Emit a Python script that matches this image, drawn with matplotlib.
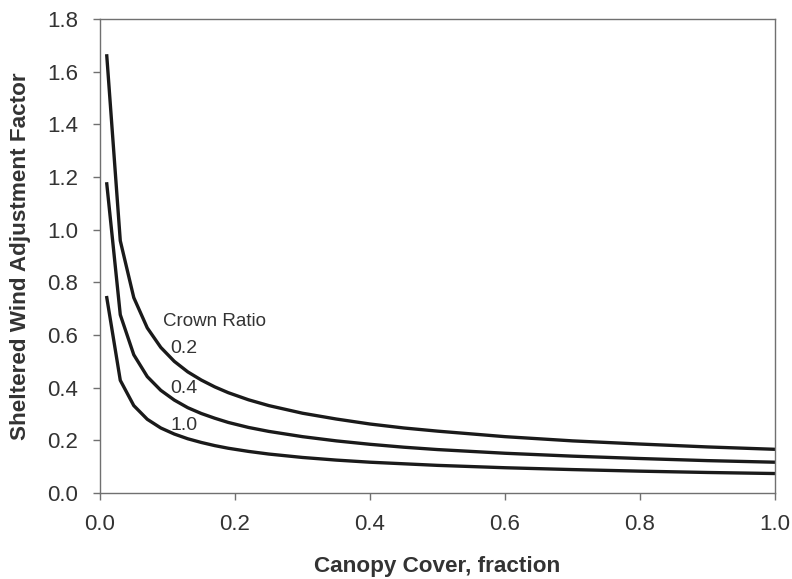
import matplotlib
matplotlib.use("Agg")
import matplotlib.pyplot as plt

plt.rcParams['font.family'] = ['Liberation Sans', 'DejaVu Sans']

canopy_cover = [0.01, 0.03, 0.05, 0.07, 0.09, 0.11, 0.13, 0.15, 0.17, 0.19, 0.22, 0.25, 0.3, 0.35,
                0.4, 0.45, 0.5, 0.6, 0.7, 0.8, 0.9, 1.0]
waf_cr02 = [1.66, 0.958, 0.742, 0.627, 0.553, 0.500, 0.460, 0.429, 0.403, 0.381, 0.354, 0.332, 0.303, 0.281,
            0.262, 0.247, 0.235, 0.214, 0.198, 0.186, 0.175, 0.166]
waf_cr04 = [1.174, 0.677, 0.525, 0.442, 0.390, 0.353, 0.324, 0.302, 0.284, 0.268, 0.249, 0.234, 0.214, 0.198,
            0.185, 0.174, 0.165, 0.151, 0.140, 0.131, 0.123, 0.117]
waf_cr10 = [0.742, 0.428, 0.332, 0.280, 0.247, 0.224, 0.206, 0.192, 0.180, 0.170, 0.158, 0.148, 0.135, 0.125,
            0.117, 0.111, 0.105, 0.096, 0.089, 0.083, 0.078, 0.074]
curve_labels = ["0.2", "0.4", "1.0"]
x_ticks = [0.0, 0.2, 0.4, 0.6, 0.8, 1.0]
y_ticks = [0.0, 0.2, 0.4, 0.6, 0.8, 1.0, 1.2, 1.4, 1.6, 1.8]

fig = plt.figure(figsize=(7.92, 5.79), dpi=100)
ax = fig.add_axes([0.1263, 0.1485, 0.8522, 0.8187])

for ys in (waf_cr02, waf_cr04, waf_cr10):
    ax.plot(canopy_cover, ys, color='#1a1a1a', lw=2.4, solid_joinstyle='round')

ax.set_xlim(0, 1.0)
ax.set_ylim(0, 1.8)
ax.set_xticks(x_ticks)
ax.set_yticks(y_ticks)
ax.set_xticklabels([f"{v:.1f}" for v in x_ticks])
ax.set_yticklabels([f"{v:.1f}" for v in y_ticks])

for s in ax.spines.values():
    s.set_color('#707070')
    s.set_linewidth(1.0)
ax.tick_params(direction='out', length=5, width=1.0, color='#707070',
               labelsize=16, labelcolor='#333333')
ax.tick_params(axis='y', pad=11)
ax.tick_params(axis='x', pad=10)

ax.text(0.093, 0.65, "Crown Ratio", fontsize=13.5, color='#333333', va='center', ha='left')
label_pos = [(0.104, 0.55), (0.104, 0.395), (0.104, 0.258)]
for lab, (x, y) in zip(curve_labels, label_pos):
    ax.text(x, y, lab, fontsize=14, color='#333333', va='center', ha='left')

ax.set_xlabel("Canopy Cover, fraction", fontsize=16.2, fontweight='bold', color='#333333', va='center')
ax.set_ylabel("Sheltered Wind Adjustment Factor", fontsize=16.2, fontweight='bold', color='#333333', va='center')
ax.xaxis.set_label_coords(0.5, -0.156)
ax.yaxis.set_label_coords(-0.1185, 0.5)

fig.savefig("out.png", dpi=100)
